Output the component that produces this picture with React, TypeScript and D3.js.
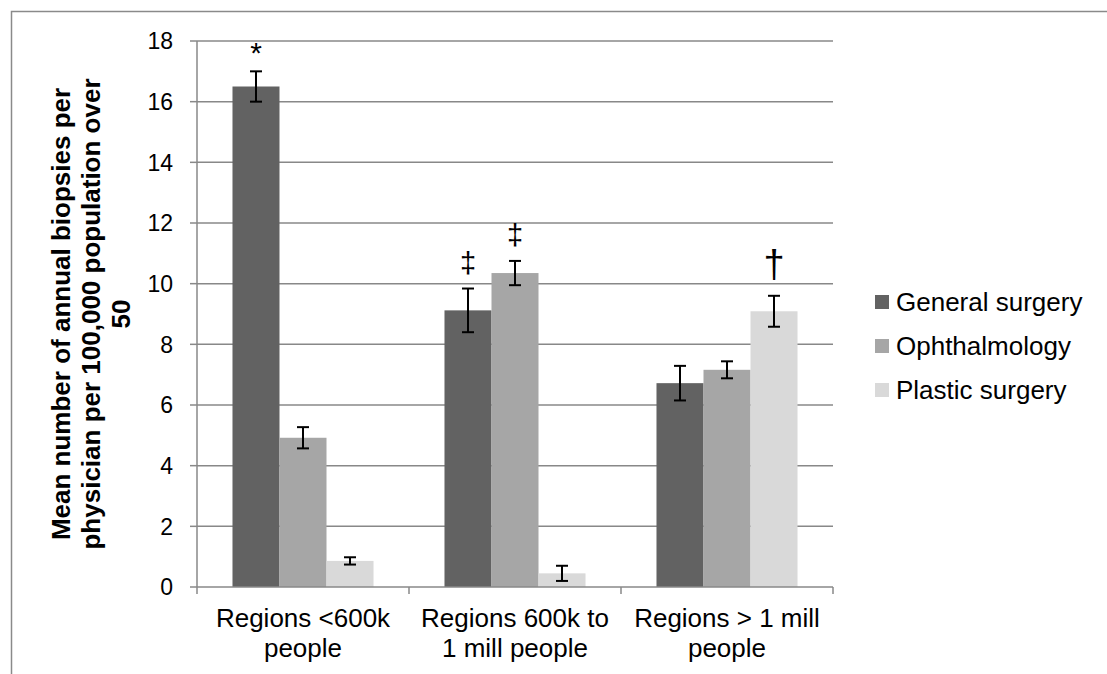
import React from "react";
import * as d3 from "d3";

const categories = ["Regions <600k people", "Regions 600k to 1 mill people", "Regions > 1 mill people"];
const categoryLines = [
  ["Regions <600k", "people"],
  ["Regions 600k to", "1 mill people"],
  ["Regions > 1 mill", "people"],
];
const seriesNames = ["General surgery", "Ophthalmology", "Plastic surgery"];
const generalSurgery = [16.5, 9.12, 6.72];
const ophthalmology = [4.92, 10.35, 7.16];
const plasticSurgery = [0.86, 0.45, 9.09];
const generalErr = [0.5, 0.72, 0.57];
const ophthalmologyErr = [0.35, 0.4, 0.28];
const plasticErr = [0.12, 0.25, 0.51];
const generalMarks = ["*", "‡", ""];
const ophthalmologyMarks = ["", "‡", ""];
const plasticMarks = ["", "", "†"];
const yTicks = [0, 2, 4, 6, 8, 10, 12, 14, 16, 18];
const colors = ["#626262", "#a6a6a6", "#d9d9d9"];

const W = 1107;
const H = 674;
const FONT = "'Liberation Sans', Arial, Helvetica, sans-serif";

const markStyle: Record<string, { size: number; gap: number }> = {
  "*": { size: 30, gap: 8 },
  "‡": { size: 29, gap: 16 },
  "†": { size: 38, gap: 19 },
};

export default function App() {
  const left = 197;
  const right = 833;
  const top = 41;
  const bottom = 587;

  const y = d3.scaleLinear().domain([0, 18]).range([bottom, top]);
  const x0 = d3.scaleBand<string>().domain(categories).range([left, right]).padding(0);
  const x1 = d3
    .scaleBand<string>()
    .domain(seriesNames)
    .range([0, x0.bandwidth()])
    .paddingInner(0)
    .paddingOuter(0.755);

  const values = [generalSurgery, ophthalmology, plasticSurgery];
  const errs = [generalErr, ophthalmologyErr, plasticErr];
  const marks = [generalMarks, ophthalmologyMarks, plasticMarks];
  const gridColor = "#888888";

  return (
    <svg
      width={W}
      height={H}
      style={{ position: "absolute", left: 0, top: 0, background: "#fff" }}
      fontFamily={FONT}
    >
      <rect x={0} y={0} width={W} height={H} fill="#fff" />
      <rect x={11.5} y={11.5} width={1300} height={900} fill="none" stroke="#8a8a8a" strokeWidth={1.5} />

      {/* gridlines */}
      {yTicks.map((t) => (
        <g key={"g" + t}>
          {t > 0 && (
            <line x1={left} x2={right} y1={y(t)} y2={y(t)} stroke={gridColor} strokeWidth={1.5} />
          )}
          <line x1={left - 7} x2={left} y1={y(t)} y2={y(t)} stroke={gridColor} strokeWidth={1.5} />
          <text x={173} y={y(t) + 23 * 0.358} textAnchor="end" fontSize={23} fill="#000">
            {t}
          </text>
        </g>
      ))}

      {/* bars */}
      {categories.map((c, ci) => (
        <g key={c} transform={`translate(${x0(c)},0)`}>
          {seriesNames.map((s, si) => {
            const v = values[si][ci];
            const e = errs[si][ci];
            const bx = x1(s) as number;
            const bw = x1.bandwidth();
            const cx = bx + bw / 2;
            const m = marks[si][ci];
            return (
              <g key={s}>
                <rect x={bx} y={y(v)} width={bw} height={y(0) - y(v)} fill={colors[si]} />
                <line x1={cx} x2={cx} y1={y(v + e)} y2={y(v - e)} stroke="#000" strokeWidth={2} />
                <line x1={cx - 6} x2={cx + 6} y1={y(v + e)} y2={y(v + e)} stroke="#000" strokeWidth={2} />
                <line x1={cx - 6} x2={cx + 6} y1={y(v - e)} y2={y(v - e)} stroke="#000" strokeWidth={2} />
                {m && (
                  <text
                    x={cx}
                    y={y(v + e) - markStyle[m].gap}
                    textAnchor="middle"
                    fontSize={markStyle[m].size}
                    fill="#000"
                  >
                    {m}
                  </text>
                )}
              </g>
            );
          })}
        </g>
      ))}

      {/* axes */}
      <line x1={left} x2={left} y1={top} y2={bottom} stroke={gridColor} strokeWidth={1.5} />
      <line x1={left} x2={right} y1={bottom} y2={bottom} stroke={gridColor} strokeWidth={1.5} />
      {[...categories.map((c) => x0(c) as number), right].map((tx, i) => (
        <line key={"xt" + i} x1={tx} x2={tx} y1={bottom} y2={bottom + 7} stroke={gridColor} strokeWidth={1.5} />
      ))}
      {categories.map((c, ci) => (
        <text key={"cl" + c} textAnchor="middle" fontSize={26} fill="#000">
          {categoryLines[ci].map((ln, li) => (
            <tspan key={li} x={(x0(c) as number) + x0.bandwidth() / 2} y={627 + li * 30}>
              {ln}
            </tspan>
          ))}
        </text>
      ))}

      {/* y title */}
      <g transform={`translate(70,${(top + bottom) / 2}) rotate(-90)`}>
        <text textAnchor="middle" fontSize={26} fontWeight="bold" fill="#000">
          <tspan x={0} y={0}>Mean number of annual biopsies per</tspan>
          <tspan x={0} y={30}>physician per 100,000 population over</tspan>
          <tspan x={0} y={60}>50</tspan>
        </text>
      </g>

      {/* legend */}
      {seriesNames.map((s, si) => {
        const cy = 302 + si * 44;
        return (
          <g key={"lg" + s}>
            <rect x={875} y={cy - 7} width={14} height={14} fill={colors[si]} />
            <text x={896} y={cy + 26 * 0.358} fontSize={26} fill="#000">
              {s}
            </text>
          </g>
        );
      })}
    </svg>
  );
}
